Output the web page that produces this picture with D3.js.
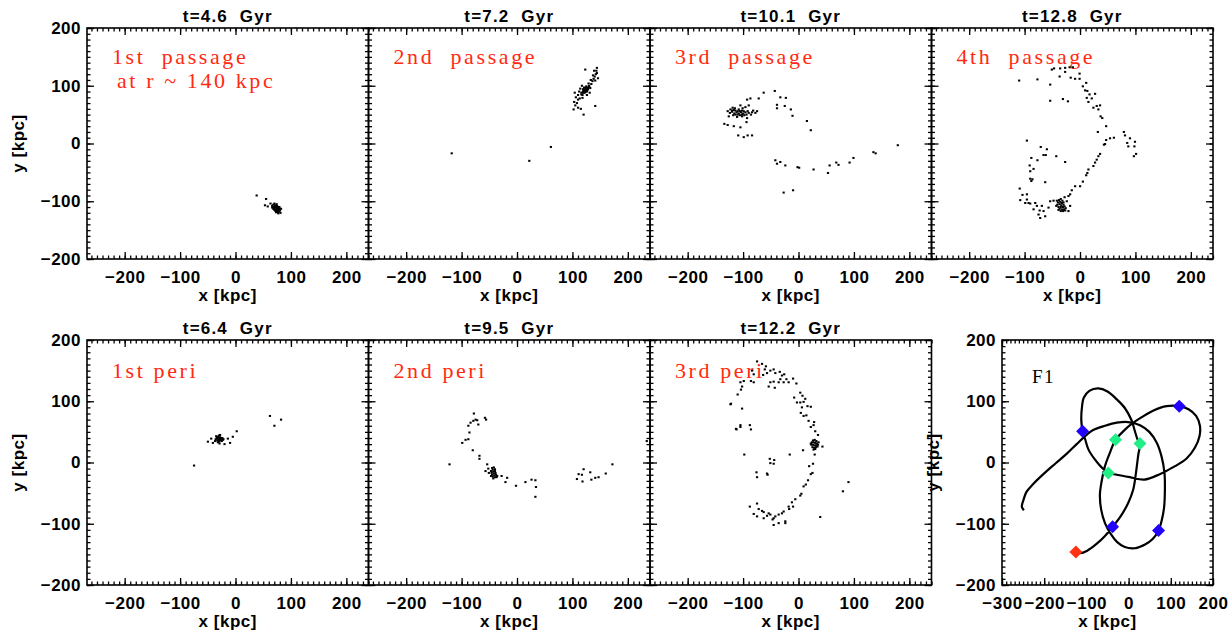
<!DOCTYPE html>
<html>
<head>
<meta charset="utf-8">
<script src="https://cdn.jsdelivr.net/npm/d3@7"></script>
<style>
  body { margin: 0; background: #fff; }
  svg text { white-space: pre; }
</style>
</head>
<body>
<svg width="1228" height="630"></svg>
<script>
// axis ranges + ticks
const xDomain = [-268, 240]
const yDomain = [-200, 200]
const f1XDomain = [-300, 200]
const majorTicks = [-200, -100, 0, 100, 200]
const f1MajorTicks = [-300, -200, -100, 0, 100, 200]

const titles = ['t=4.6  Gyr', 't=7.2  Gyr', 't=10.1  Gyr', 't=12.8  Gyr', 't=6.4  Gyr', 't=9.5  Gyr', 't=12.2  Gyr']
const labels = [['1st  passage', 'at r ~ 140 kpc'], ['2nd  passage'], ['3rd  passage'], ['4th  passage'], ['1st peri'], ['2nd peri'], ['3rd peri']]

// particle snapshots [x, y] in kpc
const pass1 = [[38,-90],[55,-96],[53,-107],[58,-109],[63,-104],[66,-108],[68,-106],[70,-104],[72,-107],[74,-105],[69,-110],[71,-112],[73,-110],[75,-112],[77,-110],[79,-113],[70,-115],[72,-117],[74,-114],[76,-116],[78,-118],[80,-116],[68,-113],[82,-113],[76,-119],[77,-121],[81,-120],[73,-119],[66,-111],[75,-108],
  [71,-108],[73,-113],[75,-115],[77,-113],[79,-110],[72,-111],[74,-117],[70,-110],[76,-111],[78,-115],[74,-109],[72,-114]]

const pass2 = [[-118,-17],[22,-30],[61,-6],[102,59],[105,66],[103,72],[108,70],[110,76],[106,80],[110,84],[113,78],[116,88],[112,90],[118,84],[120,92],[122,88],[124,95],[126,90],[128,97],[121,97],[125,99],[119,94],[127,93],[130,100],[132,96],[129,104],[134,103],[136,108],[133,110],[138,112],[140,116],[137,118],[142,120],[144,122],[141,109],[146,113],[123,128],[144,131],[120,50],[141,65],[110,62],[115,60],[104,88],[117,100],[131,88],[126,84],[143,126],[139,126],[118,79],[114,95],
  [120,88],[122,91],[124,93],[126,95],[123,89],[125,91],[127,96],[121,94],[119,90],[128,94],[130,98],[118,88],[116,85],[124,97]]

const pass3 = [[-93,76],[-87,78],[-72,78],[-63,88],[-43,91],[-33,80],[-23,79],[-39,67],[-39,61],[-25,65],[-14,59],[-11,48],[15,39],[22,23],[-42,-29],[-39,-35],[-33,-32],[-24,-38],[-2,-41],[1,-42],[27,-45],[53,-51],[56,-38],[68,-33],[72,-37],[92,-33],[99,-25],[135,-15],[139,-17],[179,-3],[-27,-85],[-10,-81],[-134,34],[-128,32],[-117,30],[-105,28],[-109,14],[-99,11],[-92,14],[-84,14],[-94,37],
  [-128,56],[-123,59],[-117,58],[-108,59],[-99,56],[-90,53],[-84,54],[-78,53],[-75,56],[-105,66],[-96,63],[-90,66],[-126,47],[-111,46],[-102,47],[-93,44],[-124,53],[-120,55],[-116,52],[-112,54],[-108,52],[-104,54],[-100,52],[-96,54],[-118,49],[-114,50],[-110,50],[-106,49],[-102,50],[-98,49],[-120,57],[-114,57],[-110,56],[-106,56],[-102,57],[-94,50],[-92,56],[-86,50],[-82,57],[-115,61],[-119,62],[-101,61]]

const pass4 = [[-110,109],[-77,111],[-54,102],[-51,128],[-47,130],[-36,130],[-27,131],[-19,132],[-13,132],[-37,116],[-27,124],[-17,114],[-9,112],[-1,121],[-1,112],[11,105],[5,99],[9,92],[13,91],[17,85],[12,79],[21,78],[15,72],[27,86],[24,62],[30,65],[36,66],[33,59],[37,47],[40,44],[47,30],[-54,74],[-31,77],[-22,73],
  [61,10],[54,9],[47,6],[79,20],[81,14],[90,9],[85,1],[87,-5],[99,3],[98,-5],[101,-18],[97,-22],[32,20],
  [-96,5],[-71,-6],[-60,-10],[-43,-22],[-27,-32],[-88,-25],[-77,-29],[-66,-20],[-62,-20],[-91,-38],[-90,-48],[-84,-44],[-63,-67],[-88,-65],[-90,-61],[-86,-62],
  [45,-1],[43,-2],[36,-18],[33,-22],[30,-28],[27,-33],[24,-39],[15,-45],[13,-51],[11,-55],[5,-66],[0,-74],[-9,-74],[-15,-81],[-18,-88],[-21,-91],[-28,-93],[-24,-100],[-18,-108],[-21,-117],
  [-109,-78],[-104,-89],[-96,-97],[-93,-103],[-99,-103],[-90,-104],[-81,-103],[-78,-108],[-69,-108],[-73,-116],[-84,-114],[-66,-117],[-57,-111],[-48,-99],[-54,-100],[-75,-123],[-72,-129],[-63,-126],[-108,-98],[-96,-88],
  [-38,-98],[-35,-96],[-32,-99],[-40,-102],[-36,-101],[-33,-103],[-30,-102],[-41,-106],[-37,-105],[-34,-107],[-30,-106],[-39,-110],[-35,-110],[-31,-110],[-28,-109],[-37,-113],[-33,-114],[-29,-114],[-35,-117],[-31,-117],[-26,-112],[-43,-108],[-42,-99],[-27,-116],[-39,-115]]

const peri1 = [[-75,-5],[62,76],[70,60],[82,70],[2,51],[-5,42],[-10,32],[-20,30],[-41,32],[-50,34],[-44,39],[-14,39],[-29,31],[-23,37],
  [-36,38],[-34,40],[-32,42],[-30,44],[-28,41],[-26,39],[-24,40],[-33,36],[-31,38],[-29,37],[-27,36],[-30,34],[-25,35],[-35,43],[-28,45],[-22,38],[-37,35],[-32,33],
  [-31,40],[-29,41],[-27,39],[-33,39],[-30,37],[-28,38]]

const peri2 = [[-122,-3],[-99,32],[-93,37],[-88,38],[-86,49],[-88,60],[-84,65],[-79,68],[-78,80],[-75,70],[-72,69],[-70,62],[-58,73],[-56,70],[-80,20],[-68,11],[-68,6],[-54,-3],[-52,-10],[-51,-17],[-57,-14],[-36,-22],[-28,-22],[-18,-25],[-21,-32],[-2,-38],[15,-32],[26,-28],[33,-29],[34,-40],[33,-56],
  [108,-27],[111,-19],[117,-20],[118,-31],[120,-11],[132,-16],[134,-28],[141,-25],[147,-24],[160,-18],[172,-3],[234,35],
  [-45,-9],[-42,-8],[-40,-11],[-44,-12],[-47,-14],[-43,-15],[-40,-14],[-46,-17],[-42,-18],[-39,-17],[-45,-20],[-41,-21],[-38,-20],[-44,-23],[-40,-24],[-47,-22],[-37,-24],[-43,-26]]

const peri3 = [[-75,165],[-66,161],[-59,157],[-61,152],[-57,146],[-64,143],[-51,150],[-45,152],[-42,146],[-34,148],[-30,142],[-26,144],[-22,136],[-33,136],[-36,131],[-27,131],[-18,131],[-10,137],[-4,129],[-45,132],[-51,131],[-54,124],[-43,122],[-86,133],[-99,133],[-105,131],[-81,131],[-102,124],[-104,119],[-110,111],[-81,144],[-84,150],
  [3,114],[7,109],[-8,106],[-3,98],[3,98],[9,99],[12,104],[6,90],[16,92],[22,91],[4,81],[14,77],[9,76],[18,68],[28,66],[22,58],[27,61],[35,45],[30,51],
  [43,26],[8,20],[-16,13],[29,13],[26,-2],[19,-6],[25,-17],[22,-19],[17,-29],[13,-36],[9,-39],[5,-51],[3,-54],[-6,-60],[-12,-65],[-10,-72],[-17,-76],[-18,-72],[-27,-80],[-30,-83],[-36,-85],[-42,-88],[-45,-91],[-51,-85],[-57,-87],[-54,-83],[-66,-79],[-63,-81],[-72,-76],[-75,-67],[-88,-72],[-81,-84],[-75,-88],[-63,-91],[-47,-93],[-45,-102],[-36,-99],[-24,-96],[-24,-99],
  [-122,96],[-102,88],[-112,54],[-105,61],[-88,61],[-86,54],[-98,13],[-52,6],[-44,4],[-51,-1],[-45,-2],[-76,-16],[-75,-24],[-57,-18],[-56,-20],[39,-89],[80,-47],[90,-32],[-123,95],[-113,55],[-105,58],
  [26,36],[29,37],[32,35],[24,33],[27,33],[30,32],[33,31],[23,29],[26,29],[29,28],[32,28],[35,29],[25,25],[28,24],[31,25],[34,26],[27,21],[30,22],[22,31],[36,33]]

// orbit of F1 (kpc), from early times to the end
const orbitF1 = [[-248,-78],[-253,-72],[-249,-61],[-242,-48],[-226,-35],[-202,-19],[-174,-2],[-147,14],[-123,30],[-103,43],[-84,53],[-56,60],[-28,65],[-1,66],[27,61],[49,50],[67,32],[78,10],[85,-17],[86,-44],[84,-74],[78,-96],[71,-111],[57,-125],[39,-134],[15,-140],[-9,-138],[-27,-130],[-42,-117],[-56,-99],[-65,-77],[-68,-53],[-64,-31],[-56,-6],[-46,13],[-31,37],[-14,50],[7,63],[31,74],[59,85],[90,92],[120,92],[142,87],[160,76],[169,60],[168,43],[157,24],[138,7],[110,-6],[74,-19],[37,-28],[3,-24],[-28,-20],[-48,-17],[-64,-8],[-80,5],[-95,21],[-103,38],[-109,51],[-112,68],[-111,87],[-106,106],[-93,117],[-72,121],[-50,116],[-28,103],[-9,89],[7,69],[15,51],[21,38],[27,31],[23,13],[18,-14],[11,-44],[-1,-66],[-19,-88],[-38,-105],[-56,-120],[-76,-133],[-98,-144],[-115,-148],[-125,-146]]
const passMarks = [[71,-111],[120,92],[-109,51],[-38,-105]]
const periMarks = [[-31,37],[27,31],[-48,-17]]
const endMark = [[-125,-146]]

const svg = d3.select('svg')
const FONT = 'Liberation Sans, Arial, sans-serif'
const SERIF = 'Liberation Serif, Times New Roman, serif'
const RED = '#ff2a10'

const colLefts = [87, 368.5, 650, 931.5]
const colW = 281.5
const rows = [{ top: 28, bottom: 259 }, { top: 340, bottom: 585 }]

const snapshots = [pass1, pass2, pass3, pass4, peri1, peri2, peri3]

// draw a framed panel with IDL style ticks, returns scales + group
const drawFrame = (left, width, row, xd, xticks, showY) => {
  const g = svg.append('g')
  const x = d3.scaleLinear().domain(xd).range([left, left + width])
  const y = d3.scaleLinear().domain(yDomain).range([row.bottom, row.top])
  const minorX = d3.range(Math.ceil(xd[0] / 10) * 10, xd[1] + 0.1, 10)
  const minorY = d3.range(-200, 201, 10)
  const fmt = d3.format('d')

  const addAxis = (axis, tr, vals, size, labelled, pad) => {
    const a = g.append('g').attr('transform', tr)
      .call(axis.tickValues(vals).tickSize(size).tickPadding(pad)
        .tickFormat(labelled ? fmt : ''))
    a.select('.domain').remove()
    a.selectAll('line').attr('stroke', '#000').attr('stroke-width', 1.3)
    a.selectAll('text').attr('font-family', FONT).attr('font-size', 17)
      .attr('font-weight', 'bold').attr('fill', '#000').attr('letter-spacing', 0.5)
    return a
  }
  // minor ticks
  addAxis(d3.axisBottom(x), `translate(0,${row.bottom})`, minorX, -3.5, false, 0)
  addAxis(d3.axisTop(x), `translate(0,${row.top})`, minorX, -3.5, false, 0)
  addAxis(d3.axisLeft(y), `translate(${left},0)`, minorY, -3.5, false, 0)
  addAxis(d3.axisRight(y), `translate(${left + width},0)`, minorY, -3.5, false, 0)
  // major ticks
  addAxis(d3.axisBottom(x), `translate(0,${row.bottom})`, xticks, -7, true, 12)
  addAxis(d3.axisTop(x), `translate(0,${row.top})`, xticks, -7, false, 0)
  addAxis(d3.axisLeft(y), `translate(${left},0)`, majorTicks, -7, showY, 6)
  addAxis(d3.axisRight(y), `translate(${left + width},0)`, majorTicks, -7, false, 0)

  g.append('rect')
    .attr('x', left).attr('y', row.top)
    .attr('width', width).attr('height', row.bottom - row.top)
    .attr('fill', 'none').attr('stroke', '#000').attr('stroke-width', 1.6)

  g.append('text')
    .attr('x', left + width / 2).attr('y', row.bottom + 41.5)
    .attr('text-anchor', 'middle')
    .attr('font-family', FONT).attr('font-size', 17).attr('font-weight', 'bold')
    .attr('letter-spacing', 0.5)
    .text('x [kpc]')

  if (showY) {
    const cy = (row.top + row.bottom) / 2
    g.append('text')
      .attr('transform', `translate(${left - 63},${cy}) rotate(-90)`)
      .attr('text-anchor', 'middle')
      .attr('font-family', FONT).attr('font-size', 17).attr('font-weight', 'bold')
      .attr('letter-spacing', 0.5)
      .text('y [kpc]')
  }
  return { g, x, y }
}

// seven snapshot panels
snapshots.forEach((pts, i) => {
  const col = i < 4 ? i : i - 4
  const row = rows[i < 4 ? 0 : 1]
  const left = colLefts[col]
  const { g, x, y } = drawFrame(left, colW, row, xDomain, majorTicks, col === 0)

  g.append('text')
    .attr('x', left + colW / 2).attr('y', row.top - 6)
    .attr('text-anchor', 'middle')
    .attr('font-family', FONT).attr('font-size', 17).attr('font-weight', 'bold')
    .attr('letter-spacing', 1.2)
    .text(titles[i])

  labels[i].forEach((t, j) => {
    g.append('text')
      .attr('x', left + 25 + j * 5).attr('y', row.top + (i < 4 ? 36 : 38) + j * 24)
      .attr('font-family', SERIF).attr('font-size', 22)
      .attr('letter-spacing', 2.6)
      .attr('fill', RED)
      .text(t)
  })

  g.append('g').selectAll('rect')
    .data(pts)
    .join('rect')
    .attr('x', d => x(d[0]) - 1)
    .attr('y', d => y(d[1]) - 1)
    .attr('width', 2.2).attr('height', 2)
    .attr('fill', '#000')
})

// orbit panel
const f1 = drawFrame(1002, 211, rows[1], f1XDomain, f1MajorTicks, true)
f1.g.append('text')
  .attr('x', 1032).attr('y', 383)
  .attr('font-family', SERIF).attr('font-size', 19).attr('letter-spacing', 1.5)
  .text('F1')

f1.g.append('path')
  .datum(orbitF1)
  .attr('d', d3.line().x(d => f1.x(d[0])).y(d => f1.y(d[1])).curve(d3.curveCatmullRom))
  .attr('fill', 'none').attr('stroke', '#000').attr('stroke-width', 2.2)

const diamond = (cx, cy, r) => `M${cx},${cy - r}L${cx + r},${cy}L${cx},${cy + r}L${cx - r},${cy}Z`
const markSets = [[passMarks, '#2200ff'], [periMarks, '#22ee88'], [endMark, '#ff3311']]
markSets.forEach(([pts, col]) => {
  f1.g.append('g').selectAll('path')
    .data(pts)
    .join('path')
    .attr('d', d => diamond(f1.x(d[0]), f1.y(d[1]), 6.5))
    .attr('fill', col)
})
</script>
</body>
</html>
